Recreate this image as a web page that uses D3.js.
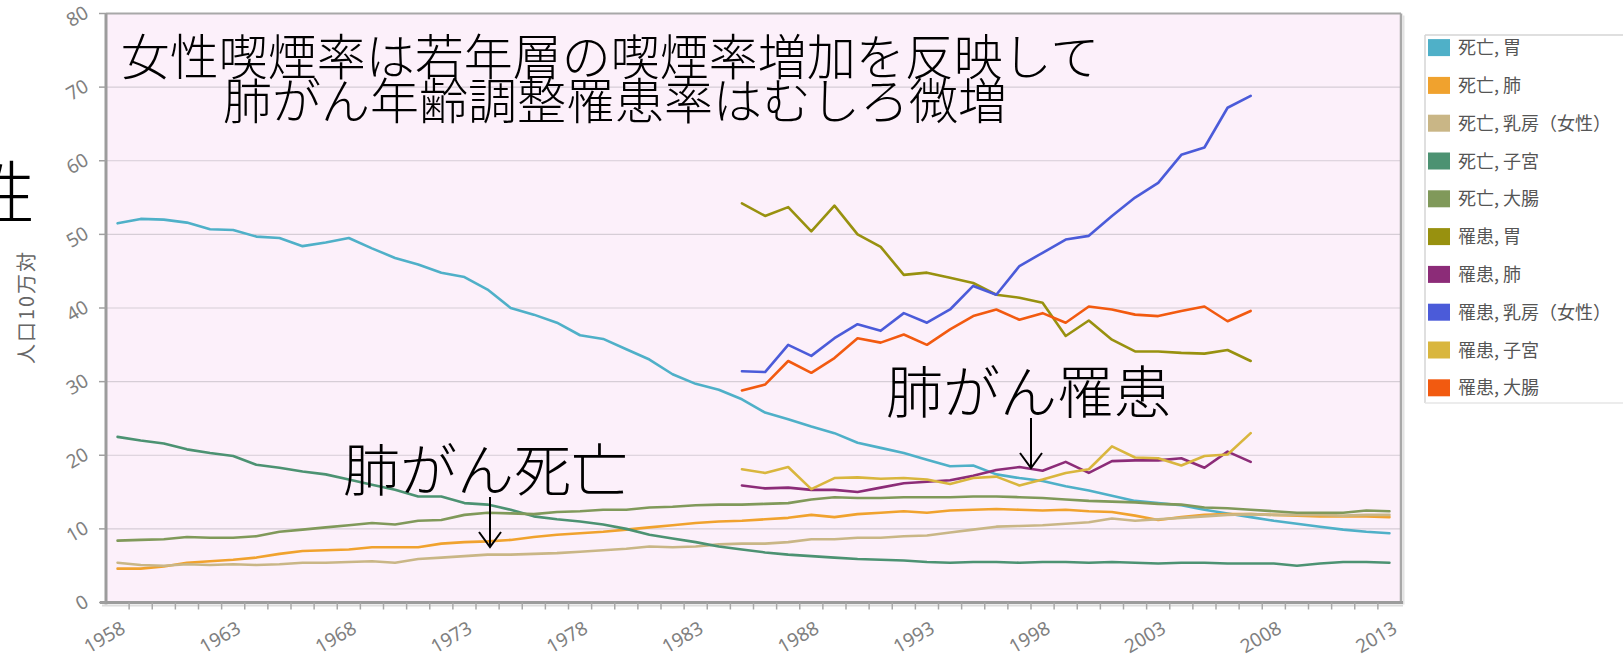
<!DOCTYPE html>
<html>
<head>
<meta charset="utf-8">
<script src="https://cdn.jsdelivr.net/npm/d3@7"></script>
<style>
body { margin: 0; background: #fff; overflow: hidden; }
svg { display: block; }
</style>
</head>
<body>
<svg id="chart" width="1623" height="658"></svg>
<script>
// ---- data ----
var deathYears = [1958,1959,1960,1961,1962,1963,1964,1965,1966,1967,1968,1969,1970,1971,1972,1973,1974,1975,1976,1977,
    1978,1979,1980,1981,1982,1983,1984,1985,1986,1987,1988,1989,1990,1991,1992,1993,1994,1995,1996,1997,
    1998,1999,2000,2001,2002,2003,2004,2005,2006,2007,2008,2009,2010,2011,2012,2013];
var incidenceYears = [1985,1986,1987,1988,1989,1990,1991,1992,1993,1994,1995,1996,1997,1998,1999,2000,2001,2002,2003,2004,2005,2006,2007];

var deathStomach = [51.5,52.1,52.0,51.6,50.7,50.6,49.7,49.5,48.4,48.9,49.5,48.1,46.8,45.9,44.8,44.2,42.5,40.0,39.1,38.0,
    36.3,35.8,34.4,33.0,31.0,29.7,28.9,27.6,25.8,24.9,23.9,23.0,21.7,21.0,20.3,19.4,18.5,18.6,17.4,16.9,
    16.5,15.8,15.2,14.5,13.8,13.5,13.2,12.6,12.1,11.6,11.1,10.7,10.3,9.9,9.6,9.4];
var deathLung = [4.6,4.6,4.9,5.4,5.6,5.8,6.1,6.6,7.0,7.1,7.2,7.5,7.5,7.5,8.0,8.2,8.3,8.5,8.9,9.2,
    9.4,9.6,9.9,10.2,10.5,10.8,11.0,11.1,11.3,11.5,11.9,11.6,12.0,12.2,12.4,12.2,12.5,12.6,12.7,12.6,
    12.5,12.6,12.4,12.3,11.8,11.2,11.6,11.9,12.0,12.0,11.9,11.8,11.7,11.7,11.7,11.6];
var deathBreast = [5.4,5.1,5.0,5.2,5.1,5.2,5.1,5.2,5.4,5.4,5.5,5.6,5.4,5.9,6.1,6.3,6.5,6.5,6.6,6.7,
    6.9,7.1,7.3,7.6,7.5,7.6,7.9,8.0,8.0,8.2,8.6,8.6,8.8,8.8,9.0,9.1,9.5,9.9,10.3,10.4,
    10.5,10.7,10.9,11.4,11.1,11.3,11.5,11.7,11.9,12.0,11.9,11.9,11.9,11.8,11.9,11.9];
var deathUterus = [22.5,22.0,21.6,20.8,20.3,19.9,18.7,18.3,17.8,17.4,16.7,16.0,15.3,14.4,14.4,13.5,13.3,12.6,11.7,11.3,
    11.0,10.6,10.0,9.2,8.7,8.2,7.6,7.2,6.8,6.5,6.3,6.1,5.9,5.8,5.7,5.5,5.4,5.5,5.5,5.4,
    5.5,5.5,5.4,5.5,5.4,5.3,5.4,5.4,5.3,5.3,5.3,5.0,5.3,5.5,5.5,5.4];
var deathColon = [8.4,8.5,8.6,8.9,8.8,8.8,9.0,9.6,9.9,10.2,10.5,10.8,10.6,11.1,11.2,11.9,12.2,12.1,12.0,12.3,
    12.4,12.6,12.6,12.9,13.0,13.2,13.3,13.3,13.4,13.5,14.0,14.3,14.2,14.2,14.3,14.3,14.3,14.4,14.4,14.3,
    14.2,14.0,13.8,13.7,13.6,13.4,13.3,12.9,12.8,12.6,12.4,12.2,12.2,12.2,12.5,12.4];

var incStomach = [54.2,52.5,53.7,50.4,53.9,50.0,48.3,44.5,44.8,44.1,43.4,41.8,41.4,40.7,36.2,38.3,35.7,34.1,34.1,33.9,33.8,34.3,32.8];
var incLung = [15.9,15.5,15.6,15.3,15.3,15.0,15.6,16.2,16.4,16.6,17.2,18.0,18.4,17.9,19.1,17.6,19.2,19.3,19.3,19.6,18.3,20.5,19.1];
var incBreast = [31.4,31.3,35.0,33.5,35.9,37.8,36.9,39.3,38.0,39.8,43.0,41.8,45.7,47.5,49.3,49.8,52.5,55.0,57.0,60.8,61.8,67.2,68.8];
var incUterus = [18.1,17.6,18.4,15.4,16.9,17.0,16.8,16.9,16.7,16.1,16.9,17.1,15.9,16.7,17.6,18.1,21.2,19.7,19.6,18.6,19.9,20.1,23.0];
var incColon = [28.8,29.6,32.8,31.2,33.2,35.9,35.3,36.4,35.0,37.1,38.9,39.8,38.4,39.3,38.0,40.2,39.8,39.1,38.9,39.6,40.2,38.2,39.6];

var seriesNames = ["死亡, 胃","死亡, 肺","死亡, 乳房（女性）","死亡, 子宮","死亡, 大腸",
    "罹患, 胃","罹患, 肺","罹患, 乳房（女性）","罹患, 子宮","罹患, 大腸"];
var seriesValues = [deathStomach, deathLung, deathBreast, deathUterus, deathColon,
    incStomach, incLung, incBreast, incUterus, incColon];
var seriesYears = [deathYears, deathYears, deathYears, deathYears, deathYears,
    incidenceYears, incidenceYears, incidenceYears, incidenceYears, incidenceYears];

var xTickLabels = [1958,1963,1968,1973,1978,1983,1988,1993,1998,2003,2008,2013];
var yTickValues = [0,10,20,30,40,50,60,70,80];
var yAxisTitle = "人口10万対";
var headline = ["女性喫煙率は若年層の喫煙率増加を反映して", "肺がん年齢調整罹患率はむしろ微増"];
var noteDeath = "肺がん死亡";
var noteIncidence = "肺がん罹患";

// ---- styles ----
var seriesColors = ["#4fb0c8","#f0a22e","#c9b686","#4c9272","#80995a",
    "#98910f","#8c2c78","#4b5bd9","#d9b63e","#f25a10"];
var cjk = "'Noto Sans CJK JP', 'Noto Sans', sans-serif";
var latin = "'Noto Sans', 'Open Sans', sans-serif";

var svg = d3.select("#chart");

var plotL = 106, plotR = 1401, plotT = 13.5, plotB = 602.5;

var x = d3.scaleLinear().domain([1957.5, 2013.5]).range([plotL, plotR]);
var y = d3.scaleLinear().domain([0, 80]).range([plotB, plotT]);

// plot background
svg.append("rect")
    .attr("x", plotL).attr("y", plotT)
    .attr("width", plotR - plotL).attr("height", plotB - plotT)
    .attr("fill", "#fcf0fa");

// gridlines
svg.append("g").selectAll("line").data(yTickValues).enter().append("line")
    .attr("x1", plotL).attr("x2", plotR)
    .attr("y1", function(d){ return y(d); })
    .attr("y2", function(d){ return y(d); })
    .attr("stroke", "#d6cdd6").attr("stroke-width", 1.2);

// big cut-off character at the left edge
svg.append("text")
    .attr("x", -33).attr("y", 218)
    .attr("font-family", cjk).attr("font-weight", 300)
    .attr("font-size", 68).attr("fill", "#000")
    .text("性");

// series lines
var line = d3.line()
    .x(function(d){ return x(d[0]); })
    .y(function(d){ return y(d[1]); });

var lines = svg.append("g");
seriesValues.forEach(function(vals, i){
    var pts = vals.map(function(v, j){ return [seriesYears[i][j], v]; });
    lines.append("path")
        .attr("d", line(pts))
        .attr("fill", "none")
        .attr("stroke", seriesColors[i])
        .attr("stroke-width", 2.6)
        .attr("stroke-linejoin", "round")
        .attr("stroke-linecap", "round");
});

// frame
svg.append("line").attr("x1", plotL).attr("x2", plotR).attr("y1", plotT).attr("y2", plotT)
    .attr("stroke", "#a8a8a8").attr("stroke-width", 2);
svg.append("line").attr("x1", plotR).attr("x2", plotR).attr("y1", plotT).attr("y2", plotB)
    .attr("stroke", "#a8a8a8").attr("stroke-width", 2.5);
svg.append("line").attr("x1", plotR + 2.5).attr("x2", plotR + 2.5).attr("y1", plotT + 2).attr("y2", plotB + 2)
    .attr("stroke", "#e2e2e2").attr("stroke-width", 2);
svg.append("line").attr("x1", plotL).attr("x2", plotL).attr("y1", plotT).attr("y2", plotB + 2)
    .attr("stroke", "#9c9c9c").attr("stroke-width", 3);
svg.append("line").attr("x1", plotL - 6).attr("x2", plotR + 2).attr("y1", plotB).attr("y2", plotB)
    .attr("stroke", "#9c9c9c").attr("stroke-width", 3);
svg.append("line").attr("x1", plotL - 4).attr("x2", plotR + 2).attr("y1", plotB + 3).attr("y2", plotB + 3)
    .attr("stroke", "#dcdcdc").attr("stroke-width", 2);

// y ticks + labels
var yAxis = svg.append("g");
yAxis.selectAll("line").data(yTickValues).enter().append("line")
    .attr("x1", plotL - 7).attr("x2", plotL)
    .attr("y1", function(d){ return y(d); })
    .attr("y2", function(d){ return y(d); })
    .attr("stroke", "#a0a0a0").attr("stroke-width", 1.5);
yAxis.selectAll("text").data(yTickValues).enter().append("text")
    .attr("transform", function(d){ return "translate(90," + (y(d) + 3) + ") rotate(-30)"; })
    .attr("text-anchor", "end")
    .attr("font-family", latin).attr("font-size", 19).attr("fill", "#808080")
    .text(function(d){ return d; });

svg.append("text")
    .attr("transform", "translate(34,307) rotate(-90)")
    .attr("text-anchor", "middle")
    .attr("font-family", cjk).attr("font-size", 20).attr("letter-spacing", 2)
    .attr("fill", "#666")
    .text(yAxisTitle);

// x ticks (between years) + labels
var tickYears = deathYears.slice(0, deathYears.length - 1);
var xAxis = svg.append("g");
xAxis.selectAll("line").data(tickYears).enter().append("line")
    .attr("x1", function(d){ return x(d + 0.5); })
    .attr("x2", function(d){ return x(d + 0.5); })
    .attr("y1", plotB).attr("y2", plotB + 7)
    .attr("stroke", "#a8a8a8").attr("stroke-width", 1.5);
xAxis.selectAll("text").data(xTickLabels).enter().append("text")
    .attr("transform", function(d){ return "translate(" + (x(d) + 9) + ",632) rotate(-30)"; })
    .attr("text-anchor", "end")
    .attr("font-family", latin).attr("font-size", 19).attr("fill", "#808080")
    .text(function(d){ return d; });

// headline
var head = svg.append("g")
    .attr("font-family", cjk).attr("font-weight", 300)
    .attr("font-size", 49).attr("fill", "#000")
    .attr("text-anchor", "middle");
head.append("text").attr("x", 610).attr("y", 75).text(headline[0]);
head.append("text").attr("x", 615).attr("y", 119).text(headline[1]);

// annotations with arrows
function note(label, tx, ty, ax, ay1, ay2)
{
    svg.append("text")
        .attr("x", tx).attr("y", ty)
        .attr("font-family", cjk).attr("font-weight", 300)
        .attr("font-size", 57).attr("fill", "#000")
        .text(label);
    svg.append("path")
        .attr("d", "M" + ax + "," + ay1 + "L" + ax + "," + ay2 +
            "M" + (ax - 11) + "," + (ay2 - 15) + "L" + ax + "," + ay2 + "L" + (ax + 11) + "," + (ay2 - 15))
        .attr("fill", "none").attr("stroke", "#000").attr("stroke-width", 2);
}
note(noteDeath, 343, 491, 490, 497, 547);
note(noteIncidence, 886, 413, 1031, 418, 468);

// legend
var legendTop = 35, legendLeft = 1425, rowH = 37.8;
var legend = svg.append("g");
legend.append("line").attr("x1", legendLeft).attr("x2", 1623).attr("y1", legendTop).attr("y2", legendTop)
    .attr("stroke", "#d4d4d4").attr("stroke-width", 1.5);
legend.append("line").attr("x1", legendLeft).attr("x2", legendLeft).attr("y1", legendTop).attr("y2", 403)
    .attr("stroke", "#d4d4d4").attr("stroke-width", 1.5);
legend.append("line").attr("x1", legendLeft).attr("x2", 1623).attr("y1", 403).attr("y2", 403)
    .attr("stroke", "#e6e6e6").attr("stroke-width", 1.5);

var rows = legend.selectAll("g.row").data(seriesNames).enter().append("g")
    .attr("class", "row")
    .attr("transform", function(d, i){ return "translate(0," + (47.6 + i * rowH) + ")"; });
rows.append("rect")
    .attr("x", 1428).attr("y", -8.5).attr("width", 22).attr("height", 17)
    .attr("fill", function(d, i){ return seriesColors[i]; });
rows.append("text")
    .attr("x", 1458).attr("y", 6.5)
    .attr("font-family", cjk).attr("font-size", 18).attr("fill", "#555")
    .text(function(d){ return d; });
</script>
</body>
</html>
